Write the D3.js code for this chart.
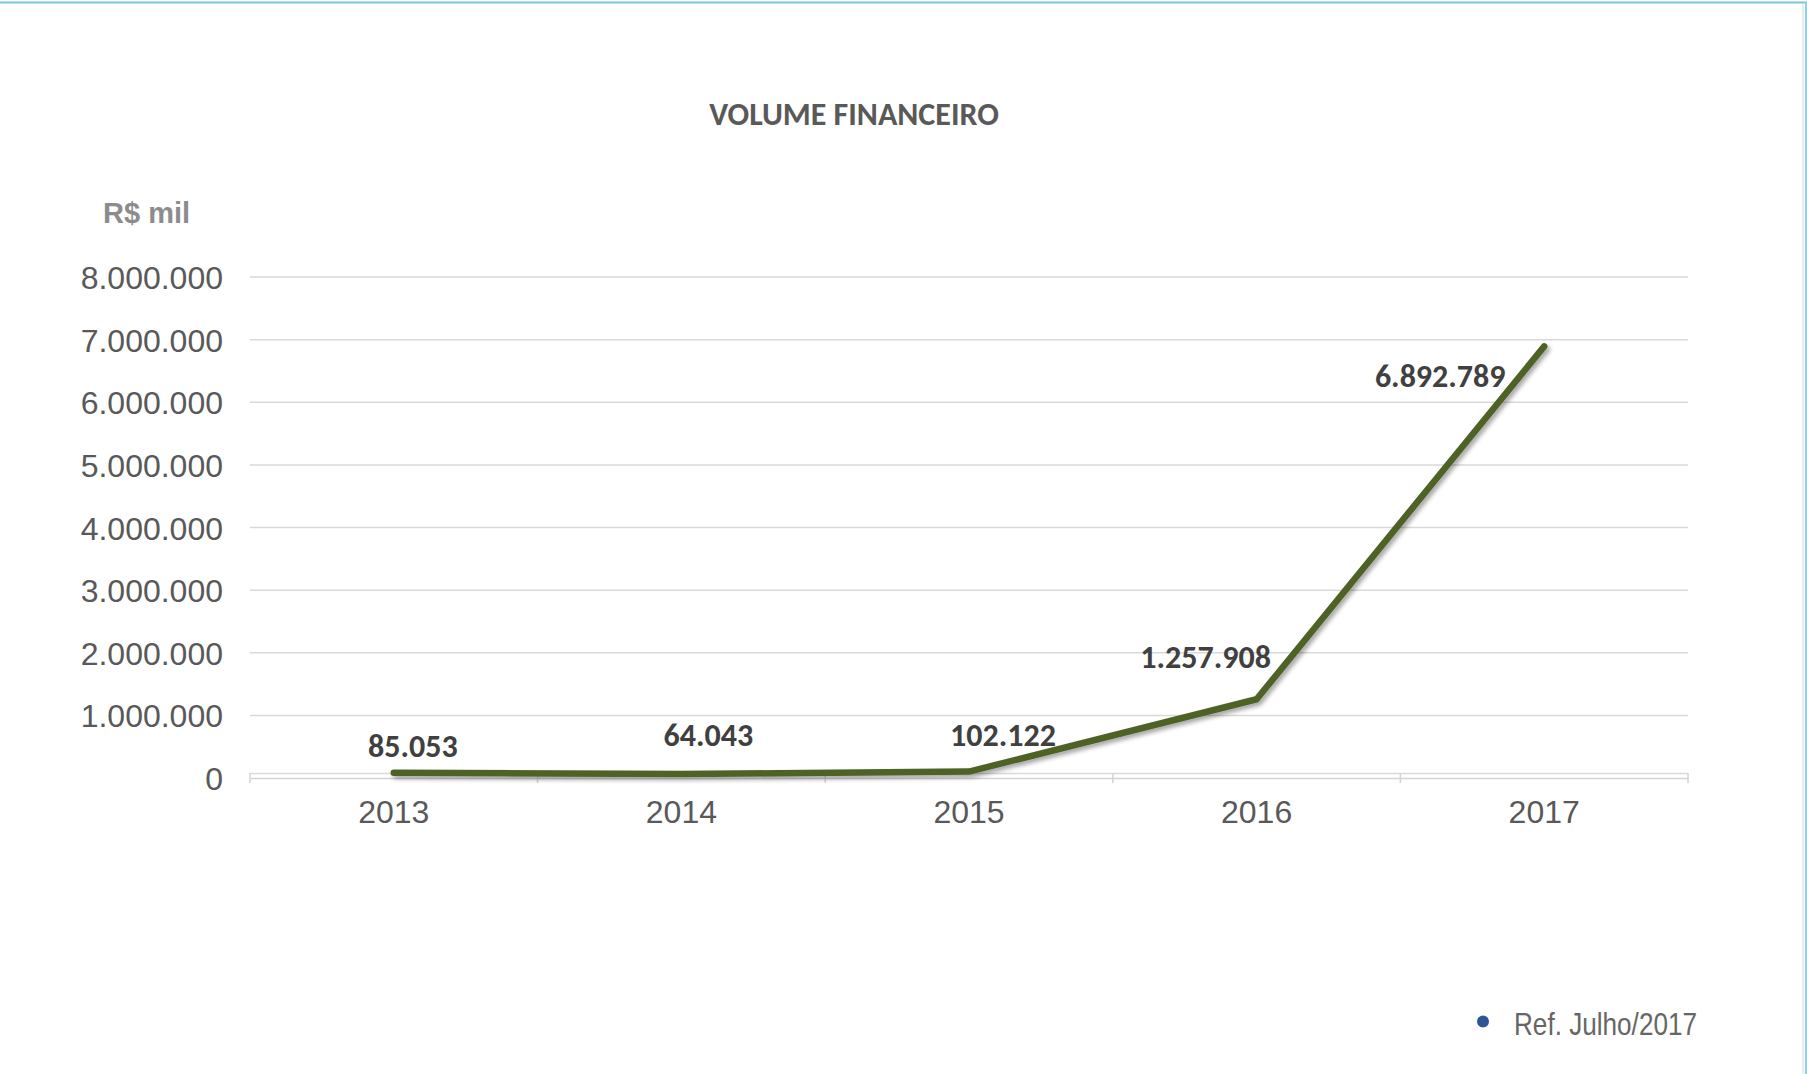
<!DOCTYPE html>
<html>
<head>
<meta charset="utf-8">
<script src="https://cdn.jsdelivr.net/npm/d3@7"></script>
<style>
  html, body { margin: 0; padding: 0; background: #ffffff; }
  svg { display: block; }
</style>
</head>
<body>
<svg id="chart" width="1807" height="1074"></svg>
<script>
// ---- data ----
const years = ["2013", "2014", "2015", "2016", "2017"];
const volumes = [85053, 64043, 102122, 1257908, 6892789];
const valueLabels = ["85.053", "64.043", "102.122", "1.257.908", "6.892.789"];
const yTickValues = [0, 1000000, 2000000, 3000000, 4000000, 5000000, 6000000, 7000000, 8000000];
const yTickLabels = ["0", "1.000.000", "2.000.000", "3.000.000", "4.000.000", "5.000.000", "6.000.000", "7.000.000", "8.000.000"];
const titleText = "VOLUME FINANCEIRO";
const unitText = "R$ mil";
const noteText = "Ref. Julho/2017";

// label placement (offset from point: label centre x, baseline y)
const labelOffsets = [[19, -15.4], [27, -28.3], [34, -25.6], [-51, -31], [-104, 40.5]];

const svg = d3.select("#chart");
const W = 1807, H = 1074;

// frame lines
svg.append("line").attr("x1", 0).attr("x2", W).attr("y1", 2.5).attr("y2", 2.5)
  .attr("stroke", "#7cc3e0").attr("stroke-width", 2);
svg.append("line").attr("x1", 1803).attr("x2", 1803).attr("y1", 3).attr("y2", H)
  .attr("stroke", "#d8d8d8").attr("stroke-width", 1);
svg.append("line").attr("x1", 1806).attr("x2", 1806).attr("y1", 2).attr("y2", H)
  .attr("stroke", "#8ecfe8").attr("stroke-width", 2);

const x = d3.scaleBand().domain(years).range([250, 1688]).paddingInner(0).paddingOuter(0);
const y = d3.scaleLinear().domain([0, 8000000]).range([778, 277]);

// gridlines
svg.append("g").selectAll("line")
  .data(yTickValues.filter(v => v > 0))
  .join("line")
  .attr("x1", 250).attr("x2", 1688)
  .attr("y1", d => y(d)).attr("y2", d => y(d))
  .attr("stroke", "#d9d9d9").attr("stroke-width", 1.5);

// x axis (Excel-like double base line with tick marks between categories)
svg.append("line").attr("x1", 250).attr("x2", 1688)
  .attr("y1", y(0) - 4.5).attr("y2", y(0) - 4.5)
  .attr("stroke", "#dadada").attr("stroke-width", 1.5);
const xAxis = d3.axisBottom(x).tickSize(0).tickFormat(d => d);
const gx = svg.append("g").attr("transform", `translate(0,${y(0)})`).call(xAxis);
gx.select(".domain").attr("stroke", "#d4d4d4").attr("stroke-width", 1.5);
gx.selectAll("text")
  .attr("font-family", "'Liberation Sans', Arial, sans-serif")
  .attr("font-size", 32).attr("fill", "#595959")
  .attr("dy", null).attr("y", 45);
// boundary ticks
const bounds = years.map(d => x(d)).concat([x(years[years.length - 1]) + x.bandwidth()]);
svg.append("g").selectAll("line").data(bounds).join("line")
  .attr("x1", d => d).attr("x2", d => d)
  .attr("y1", y(0) - 5).attr("y2", y(0) + 5)
  .attr("stroke", "#d4d4d4").attr("stroke-width", 1.5);

// y axis labels
const yAxis = d3.axisLeft(y).tickValues(yTickValues).tickSize(0)
  .tickFormat((d, i) => yTickLabels[i]);
const gy = svg.append("g").attr("transform", "translate(250,0)").call(yAxis);
gy.select(".domain").remove();
gy.selectAll("text")
  .attr("font-family", "'Liberation Sans', Arial, sans-serif")
  .attr("font-size", 32).attr("fill", "#595959")
  .attr("x", -27).attr("dy", "0.36em");

// shadow filter
const defs = svg.append("defs");
const f = defs.append("filter").attr("id", "shadow")
  .attr("x", "-10%").attr("y", "-10%").attr("width", "130%").attr("height", "130%");
f.append("feDropShadow").attr("dx", 2.5).attr("dy", 3).attr("stdDeviation", 2)
  .attr("flood-color", "#000").attr("flood-opacity", 0.35);

// line
const pts = years.map((d, i) => ({ year: d, v: volumes[i], label: valueLabels[i], off: labelOffsets[i] }));
const lineGen = d3.line().x(d => x(d.year) + x.bandwidth() / 2).y(d => y(d.v));
svg.append("path").datum(pts)
  .attr("d", lineGen)
  .attr("fill", "none")
  .attr("stroke", "#4f6228")
  .attr("stroke-width", 6.5)
  .attr("stroke-linecap", "round")
  .attr("stroke-linejoin", "round")
  .attr("filter", "url(#shadow)");

// data labels
svg.append("g").selectAll("text").data(pts).join("text")
  .attr("x", d => x(d.year) + x.bandwidth() / 2 + d.off[0])
  .attr("y", d => y(d.v) + d.off[1])
  .attr("text-anchor", "middle")
  .attr("font-family", "Carlito, Lato, 'Open Sans', sans-serif")
  .attr("font-weight", "bold")
  .attr("font-size", 32)
  .attr("fill", "#404040")
  .text(d => d.label);

// title
svg.append("text").attr("x", 854).attr("y", 125)
  .attr("text-anchor", "middle")
  .attr("font-family", "Carlito, Lato, 'Open Sans', sans-serif")
  .attr("font-weight", "bold").attr("font-size", 32)
  .attr("fill", "#595959")
  .text(titleText);

// unit label
svg.append("text").attr("x", 103).attr("y", 222.5)
  .attr("font-family", "'Liberation Sans', Arial, sans-serif")
  .attr("font-weight", "bold").attr("font-size", 29)
  .attr("fill", "#8c8c8c")
  .text(unitText);

// note
svg.append("circle").attr("cx", 1483).attr("cy", 1021.5).attr("r", 6)
  .attr("fill", "#2f5597");
svg.append("text").attr("x", 1514).attr("y", 1035)
  .attr("font-family", "'Liberation Sans Narrow', 'Liberation Sans', Arial, sans-serif")
  .attr("font-size", 32)
  .attr("textLength", 183).attr("lengthAdjust", "spacingAndGlyphs")
  .attr("fill", "#666666")
  .text(noteText);
</script>
</body>
</html>
